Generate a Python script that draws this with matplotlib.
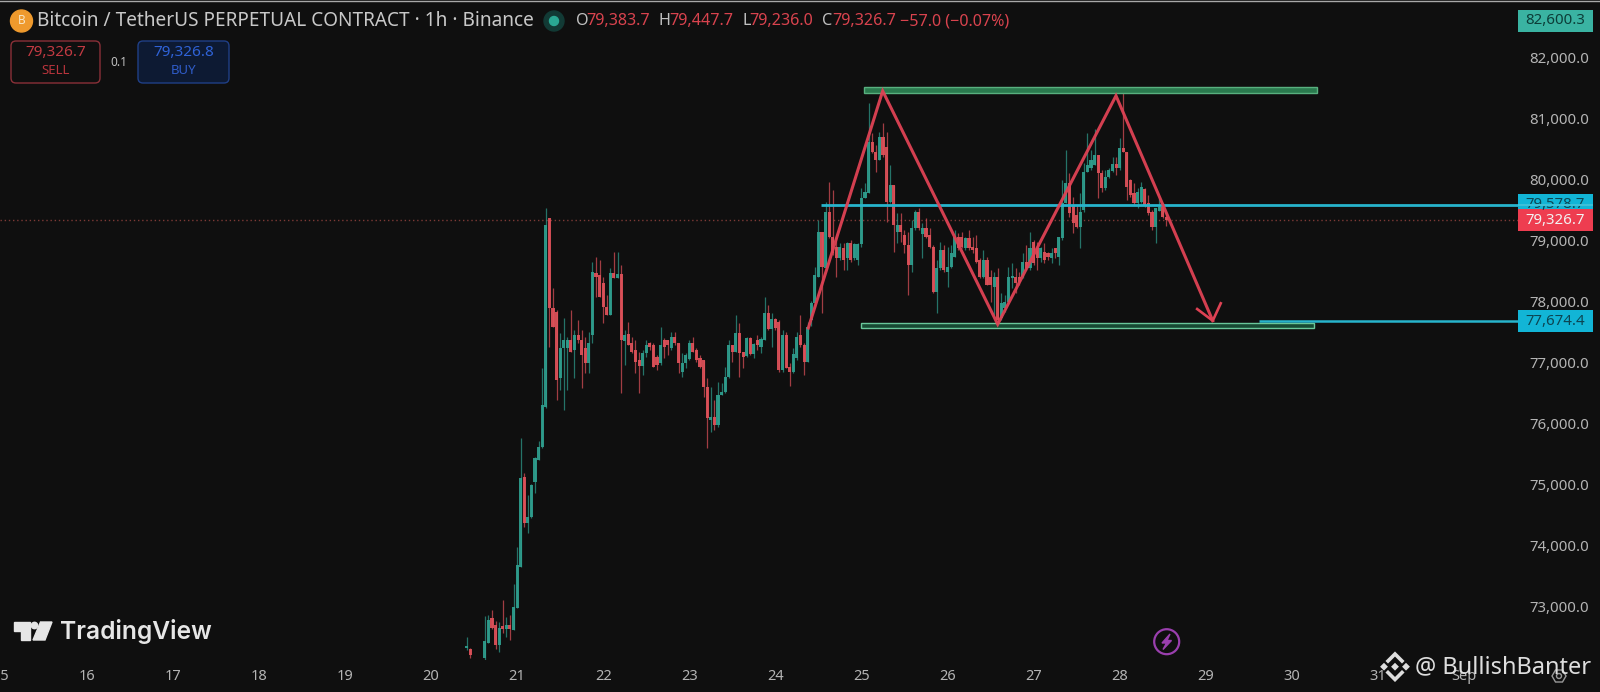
#!/usr/bin/env python3
# -*- coding: utf-8 -*-
import matplotlib
matplotlib.use("Agg")
import matplotlib.pyplot as plt
from matplotlib.patches import Rectangle, FancyBboxPatch, Circle, Polygon

plt.rcParams['font.family'] = ['Noto Sans', 'DejaVu Sans']

# hours counted from the start of day 20
candle_hours = [10, 11] + list(range(15, 206))

opens = [72320, 72300, 72150, 72395, 72800, 72690, 72360, 72670, 72620, 72690, 72610, 72970, 73640, 75120, 74360, 74460, 75035, 75400, 75610,
         76265, 79365, 77890, 77820, 76740, 77230, 77230, 77360, 77200, 77450, 77360, 77230, 76990, 77450, 78460, 78430, 78300, 77900, 77770,
         78460, 78380, 78450, 77350, 77460, 77310, 77200, 77040, 76940, 77150, 77310, 77280, 77090, 76990, 77360, 77360, 77230, 77410, 77310,
         76840, 76990, 77050, 77310, 77200, 77070, 77040, 76590, 76050, 76100, 75970, 76460, 76510, 76760, 77280, 77170, 77480, 77170, 77100,
         77400, 77130, 77360, 77250, 77360, 77810, 77540, 77710, 77660, 76870, 77450, 76920, 76840, 77070, 77450, 77280, 77000, 77690, 77970,
         78400, 79130, 78540, 79460, 79050, 78890, 78710, 78870, 78710, 78950, 78710, 78680, 78940, 79690, 79770, 80610, 80450, 80320, 80690,
         80530, 79630, 79910, 79140, 79250, 79090, 78920, 78590, 79200, 79460, 79100, 79200, 79090, 78890, 78150, 78540, 78840, 78480, 78560,
         78730, 79050, 79050, 78870, 79040, 78890, 78870, 78680, 78400, 78680, 78400, 78230, 78400, 77720, 77890, 77990, 78380, 78400, 78400,
         78400, 78640, 78540, 78970, 78870, 78710, 78810, 78790, 78710, 78870, 78730, 79040, 79610, 79940, 79580, 79410, 79220, 79490, 80120,
         80180, 80230, 80400, 80100, 79860, 80040, 80130, 80250, 80180, 80510, 80450, 79990, 79770, 79610, 79630, 79840, 79610, 79460, 79220,
         79480, 79540, 79383.7]
highs = [72500, 72310, 72830, 72850, 72930, 72750, 72740, 73100, 72820, 72850, 73370, 73970, 75755, 75180, 74820, 75000, 75450, 75700, 76900,
         79525, 79365, 78220, 77860, 77480, 77720, 77420, 77860, 77530, 77690, 77520, 77420, 77490, 78640, 78720, 78680, 78400, 78100, 78540,
         78810, 78810, 78590, 77530, 77660, 77410, 77360, 77170, 77200, 77360, 77330, 77310, 77120, 77580, 77400, 77360, 77490, 77490, 77310,
         77150, 77150, 77360, 77410, 77230, 77120, 77040, 76740, 76590, 76380, 76680, 76660, 76920, 77360, 77280, 77770, 77640, 77170, 77410,
         77410, 77310, 77450, 77410, 78070, 77940, 77810, 77720, 77690, 77530, 77490, 76990, 77230, 77490, 77770, 77310, 77660, 78000, 78560,
         79330, 79130, 79630, 79960, 79820, 79050, 78950, 78950, 78970, 79000, 78950, 78950, 79860, 79940, 81250, 80760, 80560, 80780, 80920,
         80780, 80230, 79910, 79450, 79450, 79170, 79130, 79330, 79500, 79530, 79280, 79360, 79200, 78920, 78680, 78970, 78920, 78890, 78920,
         79170, 79120, 79130, 79050, 79170, 79050, 79090, 78710, 78840, 78730, 78510, 78480, 78540, 78130, 78100, 78560, 78630, 78540, 78480,
         78790, 78920, 79130, 79000, 78970, 78890, 78950, 78810, 78870, 78870, 79050, 79990, 80480, 80100, 79710, 79580, 79770, 80270, 80760,
         80480, 80820, 80400, 80150, 80150, 80180, 80370, 80370, 80680, 81500, 80450, 80000, 79940, 79860, 79960, 79860, 79740, 79500, 79530,
         79690, 79610, 79447.7]
lows = [72280, 72150, 72100, 72395, 72620, 72300, 72250, 72560, 72490, 72440, 72600, 72970, 73640, 74300, 74195, 74440, 74850, 75400, 75600,
        76250, 77250, 77580, 76380, 76540, 76220, 76540, 77170, 76740, 77320, 76580, 76820, 76820, 77310, 78070, 78070, 77640, 77770, 77770,
        78380, 78380, 76490, 76950, 77280, 77150, 76820, 76490, 76790, 77090, 77200, 76920, 76870, 76950, 77070, 77120, 77200, 77280, 76820,
        76760, 76900, 77040, 77170, 77000, 76900, 76430, 75590, 75860, 75890, 75940, 76460, 76490, 76740, 77000, 77170, 76760, 76900, 77090,
        77120, 77070, 77200, 77150, 77360, 77530, 77250, 77530, 76840, 76840, 76900, 76610, 76820, 77040, 77250, 76790, 77000, 77600, 77900,
        78400, 77810, 78540, 79040, 78760, 78400, 78680, 78510, 78510, 78640, 78680, 78590, 78890, 79690, 79770, 80430, 80120, 80320, 80360,
        79300, 79610, 78810, 78950, 78970, 78790, 78100, 78480, 79170, 79170, 78710, 79040, 78870, 78130, 77810, 78510, 78480, 78230, 78540,
        78730, 78840, 78870, 78840, 78840, 78790, 78630, 78380, 78380, 78270, 77990, 77770, 77640, 77690, 77820, 77970, 78220, 78130, 78270,
        78380, 78510, 78510, 78590, 78510, 78640, 78630, 78680, 78630, 78710, 78590, 79000, 79610, 79380, 79120, 79200, 78870, 79460, 80120,
        80150, 80230, 79690, 79790, 79820, 80020, 80120, 80070, 80150, 80450, 79660, 79710, 79580, 79530, 79610, 79550, 79410, 79170, 78950,
        79480, 79360, 79236]
closes = [72350, 72200, 72420, 72770, 72640, 72360, 72640, 72620, 72690, 72620, 72990, 73675, 75095, 74360, 74460, 74985, 75430, 75610, 76300,
          79250, 77885, 77580, 76710, 77230, 77360, 77360, 77170, 77450, 77360, 77120, 76990, 77310, 78480, 78400, 78070, 77900, 77770, 78460,
          78380, 78450, 77360, 77450, 77280, 77170, 77000, 76940, 77150, 77280, 77250, 76920, 76950, 77280, 77250, 77280, 77410, 77310, 76990,
          76990, 77120, 77310, 77170, 77040, 76920, 76590, 76080, 76100, 75970, 76460, 76510, 76760, 77280, 77170, 77480, 77150, 77090, 77400,
          77130, 77300, 77280, 77380, 77810, 77540, 77710, 77560, 76870, 77450, 76900, 76840, 77130, 77410, 77280, 77000, 77580, 77970, 78430,
          79130, 78560, 79460, 79050, 78790, 78710, 78890, 78680, 78950, 78680, 78940, 78940, 79690, 79790, 80610, 80450, 80320, 80690, 80400,
          79630, 79910, 79250, 79250, 79140, 78920, 78590, 79200, 79460, 79200, 79200, 79050, 78890, 78150, 78540, 78840, 78510, 78560, 78790,
          79050, 78870, 78890, 79040, 78870, 78840, 78640, 78400, 78680, 78270, 78270, 78400, 77690, 77970, 77990, 78400, 78410, 78300, 78320,
          78640, 78540, 78870, 78630, 78710, 78870, 78680, 78730, 78790, 78790, 79050, 79610, 79940, 79450, 79280, 79220, 79460, 80120, 80230,
          80320, 80400, 80100, 79860, 80040, 80150, 80250, 80180, 80510, 80450, 79870, 79740, 79610, 79790, 79870, 79580, 79450, 79220, 79530,
          79540, 79380, 79326.7]

price_ticks = [82000, 81000, 80000, 79000, 78000, 77000, 76000, 75000, 74000, 73000]
day_ticks = list(range(15, 33))
day_labels = [str(d) for d in range(15, 32)] + ['Sep']

# drawn levels and the double top
zigzag_days = [24.383, 25.247, 26.583, 27.957, 29.081]
zigzag_prices = [77561, 81448, 77622, 81370, 77680]
arrow_days = [29.174, 29.081, 28.90]
arrow_prices = [77966, 77680, 77872]
top_zone = (25.03, 30.29, 81415, 81513)
bottom_zone = (24.995, 30.254, 77560, 77643)
level_high = (24.527, 79578.7)
level_low = (29.62, 77674.4)
last_price = 79326.7

BG = '#0f0f0f'
GREEN = '#2f9f8f'
RED = '#e0525a'
CYAN = '#27b4cc'
GREY = '#b4b4b4'
PEN = '#df4254'

fig = plt.figure(figsize=(16, 6.92), dpi=100, facecolor=BG)
ax = fig.add_axes([0, 32 / 692, 1518 / 1600, 660 / 692], facecolor=BG)
ax.set_xlim(14.993, 32.627)
ax.set_ylim(72116, 82940)
for s in ax.spines.values():
    s.set_visible(False)

# candles
x = [20 + h / 24 for h in candle_hours]
up = [c >= o for o, c in zip(opens, closes)]
cols = [GREEN if u else RED for u in up]
ax.vlines(x, lows, highs, colors=cols, linewidth=0.9, alpha=0.7, zorder=2)
ax.bar(x, [abs(c - o) for o, c in zip(opens, closes)], bottom=[min(o, c) for o, c in zip(opens, closes)],
       width=0.036, color=cols, linewidth=0, alpha=0.92, zorder=3)

# levels
ax.axhline(last_price, color='#7d3a36', linewidth=1, linestyle=(0, (1, 2)), zorder=1)
for z, fill, edge in [(top_zone, '#2a7a4e', '#58b07f'), (bottom_zone, '#174a33', '#69c79a')]:
    ax.add_patch(Rectangle((z[0], z[2]), z[1] - z[0], z[3] - z[2], facecolor=fill, edgecolor=edge, linewidth=1, zorder=4))
ax.plot([level_low[0], 32.627], [level_low[1]] * 2, color=CYAN, linewidth=1.8, zorder=5, solid_capstyle='butt')
ax.plot(zigzag_days, zigzag_prices, color=PEN, linewidth=2.2, alpha=0.95, zorder=6, solid_joinstyle='miter')
ax.plot(arrow_days, arrow_prices, color=PEN, linewidth=1.9, zorder=6)

# axes text
ax.yaxis.tick_right()
ax.set_yticks(price_ticks)
ax.set_yticklabels([f'{p:,.1f}' for p in price_ticks])
ax.set_xticks(day_ticks)
ax.set_xticklabels(day_labels)
ax.tick_params(axis='y', length=0, pad=8, labelsize=10.8, labelcolor=GREY)
ax.tick_params(axis='x', length=0, pad=6.5, labelsize=10.5, labelcolor=GREY)

# price tags on the scale
trans = ax.get_yaxis_transform()
tag_w = 75 / 1518
for price, face, txt_col, label in [(82600.3, '#3ab3a2', '#0c3d38', '82,600.3'),
                                    (level_high[1], '#12b5d6', '#0c4552', '79,578.7'),
                                    (level_low[1], '#12b5d6', '#0c4552', '77,674.4'),
                                    (last_price, '#ee3d50', '#f2f2f2', '79,326.7')]:
    ax.add_patch(Rectangle((1.0, price - 180), tag_w, 360, transform=trans, facecolor=face, edgecolor='none', clip_on=False, zorder=7))
    ax.text(1.0 + tag_w / 2, price, label, transform=trans, ha='center', va='center', fontsize=10.8, color=txt_col, clip_on=False, zorder=8)

# this line runs over its own tag, across the digits
ax.plot([level_high[0], 32.627], [level_high[1]] * 2, color=CYAN, linewidth=2, zorder=5, solid_capstyle='butt')
ax.plot([1.0, 1.0 + tag_w], [level_high[1]] * 2, transform=trans, color='#3cc0d8', linewidth=1.5, clip_on=False, zorder=9, solid_capstyle='butt')

# everything else is screen furniture, in pixels
ui = fig.add_axes([0, 0, 1, 1], facecolor='none')
ui.set_xlim(0, 1600)
ui.set_ylim(692, 0)
ui.axis('off')

ui.plot([0, 1600], [0.5, 0.5], color='#a8a8a8', linewidth=1)

ui.add_patch(Circle((21.5, 21), 11, color='#ef9a2d'))
ui.text(21.5, 21, 'B', color='#f8e7c8', fontsize=8.5, fontweight='bold', ha='center', va='center')
ui.text(37, 21, 'Bitcoin / TetherUS PERPETUAL CONTRACT · 1h · Binance', color='#c8c8c8', fontsize=13.7, va='center')
ui.add_patch(Circle((554, 21), 10, color='#123a35'))
ui.add_patch(Circle((554, 21), 4.5, color='#2aa893'))
for px, letter, value in [(576, 'O', '79,383.7'), (659, 'H', '79,447.7'), (742, 'L', '79,236.0'), (822, 'C', '79,326.7')]:
    ui.text(px, 21, letter, color='#c0c0c0', fontsize=11.6, va='center')
    ui.text(px + (10 if letter != 'L' else 7.5), 21, value, color='#d9434e', fontsize=11.6, va='center')
ui.text(900, 21, '−57.0 (−0.07%)', color='#d9434e', fontsize=11.6, va='center')

ui.add_patch(FancyBboxPatch((14, 44), 83, 36, boxstyle='round,pad=3,rounding_size=5', facecolor=BG, edgecolor='#8a3038', linewidth=1))
ui.text(55.5, 53, '79,326.7', color='#c23a42', fontsize=11, ha='center', va='center')
ui.text(55.5, 70, 'SELL', color='#b8343c', fontsize=9.5, ha='center', va='center')
ui.text(119, 62, '0.1', color='#c0c0c0', fontsize=8.5, ha='center', va='center')
ui.add_patch(FancyBboxPatch((141, 44), 85, 36, boxstyle='round,pad=3,rounding_size=5', facecolor='#0d1a33', edgecolor='#1f3f86', linewidth=1))
ui.text(183.5, 53, '79,326.8', color='#2f62d6', fontsize=11, ha='center', va='center')
ui.text(183.5, 70, 'BUY', color='#2f5cc8', fontsize=9.5, ha='center', va='center')

# TradingView logo
logo = '#e6e6e6'
ui.add_patch(Polygon([(14, 622), (30, 622), (30, 640), (21, 640), (21, 631), (14, 631)], color=logo))
ui.add_patch(Circle((34.5, 625.5), 3.2, color=logo))
ui.add_patch(Polygon([(40.5, 622), (52, 622), (45, 640), (33, 640)], color=logo))
ui.text(60, 632, 'TradingView', color=logo, fontsize=17.7, fontweight='semibold', family='Inter', va='center')

# lightning badge
ui.add_patch(Circle((1166.7, 641.7), 12.5, facecolor='none', edgecolor='#9a3fae', linewidth=1.6))
ui.add_patch(Polygon([(1170, 634), (1162, 643), (1166.5, 643), (1163, 649.5), (1171.5, 640.5), (1167, 640.5)], color='#9a3fae'))

# settings glyph
ui.add_patch(Polygon([(1552, 676), (1555.5, 670), (1562.5, 670), (1566, 676), (1562.5, 682), (1555.5, 682)], facecolor='none', edgecolor='#9a9a9a', linewidth=1))
ui.add_patch(Circle((1559, 676), 2.5, facecolor='none', edgecolor='#9a9a9a', linewidth=1))

# watermark
wm = '#dedede'
ui.scatter([1395, 1384, 1406], [666.7, 666.7, 666.7], marker='D', s=[16, 16, 16], color=wm, linewidths=0)
ui.plot([1388, 1395, 1402], [661, 654, 661], color=wm, linewidth=2.6, solid_joinstyle='miter')
ui.plot([1388, 1395, 1402], [672.5, 679.5, 672.5], color=wm, linewidth=2.6, solid_joinstyle='miter')
ui.text(1415, 667, '@ BullishBanter', color=wm, fontsize=17, va='center')

fig.savefig('out.png', dpi=100, facecolor=BG)
